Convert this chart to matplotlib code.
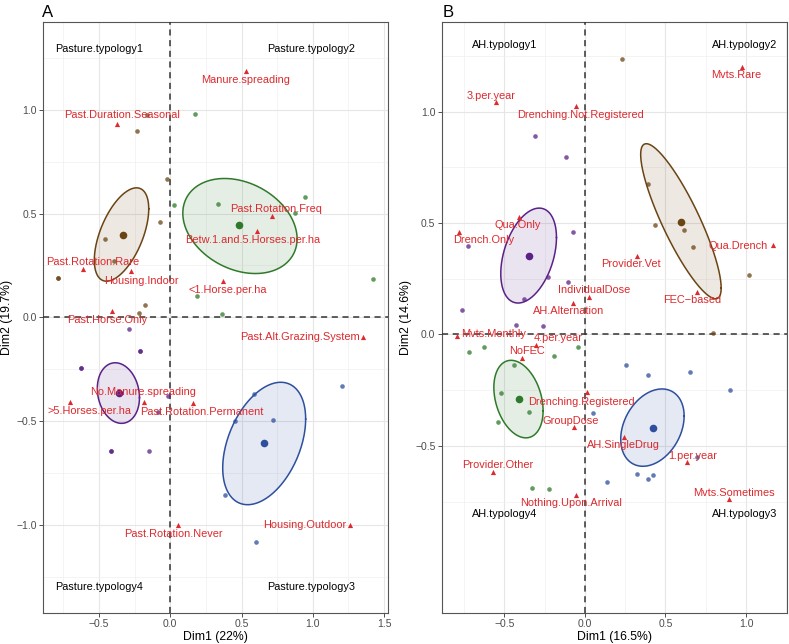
import numpy as np
import matplotlib.pyplot as plt

plt.rcParams['font.family'] = ['Liberation Sans', 'DejaVu Sans']

# ---------------- Panel A : pasture practices ----------------
a_ind_x = {
    'brown': [-0.166, -0.236, -0.025, -0.456, -0.072, -0.397, -0.786, -0.786, -0.218, -0.178],
    'green': [0.173, 0.024, 0.337, 0.947, 0.877, 1.425, 0.187, 0.363],
    'purple': [-0.292, -0.213, -0.213, -0.625, -0.625, -0.014, -0.086, -0.416, -0.416, -0.147],
    'blue': [1.203, 0.590, 0.723, 0.456, 0.386, 0.599],
}
a_ind_y = {
    'brown': [0.976, 0.898, 0.668, 0.379, 0.459, 0.271, 0.191, 0.191, 0.021, 0.058],
    'green': [0.980, 0.543, 0.545, 0.581, 0.504, 0.185, 0.103, 0.017],
    'purple': [-0.058, -0.164, -0.164, -0.246, -0.246, -0.379, -0.456, -0.646, -0.646, -0.643],
    'blue': [-0.333, -0.371, -0.495, -0.500, -0.855, -1.083],
}
# centroid x, y, ellipse centre x, y, spread x, spread y, correlation
a_ell = {
    'brown': (-0.334, 0.398, -0.342, 0.399, 0.191, 0.225, 0.55),
    'green': (0.482, 0.443, 0.489, 0.440, 0.401, 0.229, -0.27),
    'purple': (-0.360, -0.366, -0.364, -0.365, 0.148, 0.146, -0.15),
    'blue': (0.660, -0.607, 0.659, -0.608, 0.291, 0.295, 0.40),
}
a_var = ['Manure.spreading', 'Past.Duration.Seasonal', 'Past.Rotation.Freq',
         'Betw.1.and.5.Horses.per.ha', 'Past.Rotation.Rare', 'Housing.Indoor',
         '<1.Horse.per.ha', 'Past.Horse.Only', 'Past.Alt.Grazing.System',
         'No.Manure.spreading', '>5.Horses.per.ha', 'Past.Rotation.Permanent',
         'Past.Rotation.Never', 'Housing.Outdoor']
a_var_x = [0.529, -0.372, 0.712, 0.606, -0.615, -0.278, 0.372, -0.407, 1.350,
           -0.185, -0.702, 0.162, 0.056, 1.263]
a_var_y = [1.187, 0.932, 0.487, 0.414, 0.233, 0.222, 0.173, 0.030, -0.093,
           -0.407, -0.407, -0.411, -0.999, -0.999]
a_lab_x = [0.529, -0.338, 0.744, 0.576, -0.545, -0.203, 0.403, -0.442, 0.912,
           -0.190, -0.566, 0.218, 0.021, 0.945]
a_lab_y = [1.145, 0.973, 0.522, 0.371, 0.267, 0.173, 0.130, -0.013, -0.096,
           -0.358, -0.453, -0.455, -1.044, -1.002]
a_corner = ['Pasture.typology1', 'Pasture.typology2', 'Pasture.typology3', 'Pasture.typology4']

# ---------------- Panel B : anthelmintic practices ----------------
b_ind_x = {
    'brown': [0.232, 0.391, 0.435, 0.617, 0.669, 1.021, 0.797],
    'purple': [-0.309, -0.118, -0.075, -0.725, -0.228, -0.108, -0.379, -0.766, -0.429, -0.263],
    'green': [-0.722, -0.629, -0.043, -0.193, -0.443, -0.524, -0.346, -0.542, -0.327, -0.225],
    'blue': [0.255, 0.391, 0.652, 0.901, 0.052, 0.694, 0.321, 0.422, 0.391, 0.135],
}
b_ind_y = {
    'brown': [1.234, 0.676, 0.489, 0.469, 0.393, 0.265, 0.008],
    'purple': [0.892, 0.795, 0.458, 0.395, 0.260, 0.235, 0.157, 0.109, 0.044, 0.040],
    'green': [-0.077, -0.058, -0.056, -0.097, -0.135, -0.261, -0.346, -0.391, -0.687, -0.694],
    'blue': [-0.135, -0.183, -0.169, -0.247, -0.353, -0.552, -0.625, -0.630, -0.648, -0.664],
}
b_ell = {
    'brown': (0.596, 0.504, 0.596, 0.508, 0.250, 0.348, -0.86),
    'purple': (-0.350, 0.352, -0.350, 0.354, 0.173, 0.213, 0.38),
    'green': (-0.410, -0.291, -0.413, -0.290, 0.153, 0.174, -0.30),
    'blue': (0.422, -0.421, 0.419, -0.418, 0.197, 0.1735, 0.30),
}
b_var = ['3.per.year', 'Drenching.Not.Registered', 'Mvts.Rare', 'Qua.Only',
         'Drench.Only', 'Provider.Vet', 'Qua.Drench', 'IndividualDose',
         'AH.Alternation', 'FEC\u2212based', 'Mvts.Monthly', '4.per.year', 'NoFEC',
         'Drenching.Registered', 'GroupDose', 'AH.SingleDrug', '1.per.year',
         'Provider.Other', 'Nothing.Upon.Arrival', 'Mvts.Sometimes']
b_var_x = [-0.553, -0.058, 0.973, -0.412, -0.785, 0.321, 1.166, 0.027, -0.072,
           0.696, -0.795, -0.304, -0.389, 0.014, -0.066, 0.240, 0.634, -0.569,
           -0.058, 0.894]
b_var_y = [1.045, 1.023, 1.201, 0.526, 0.459, 0.350, 0.402, 0.166, 0.142,
           0.191, -0.009, -0.047, -0.104, -0.260, -0.416, -0.461, -0.573, -0.616,
           -0.721, -0.738]
b_lab_x = [-0.582, -0.027, 0.942, -0.418, -0.627, 0.288, 0.952, 0.054, -0.101,
           0.667, -0.569, -0.168, -0.358, -0.019, -0.091, 0.240, 0.669, -0.540,
           -0.087, 0.923]
b_lab_y = [1.072, 0.984, 1.166, 0.493, 0.425, 0.316, 0.396, 0.198, 0.105,
           0.155, 0.004, -0.014, -0.073, -0.303, -0.388, -0.497, -0.546, -0.586,
           -0.756, -0.712]
b_corner = ['AH.typology1', 'AH.typology2', 'AH.typology3', 'AH.typology4']

palette = {'brown': '#6b4414', 'green': '#2f7a2a', 'purple': '#5a2187', 'blue': '#2d4f9e'}
red = '#dc2a2e'


def draw_panel(ax, ind_x, ind_y, ell, var, vx, vy, lx, ly, corner, cx, cy,
               xlim, ylim, xticks, yticks, xlabel, ylabel):
    t = np.linspace(0, 2 * np.pi, 200)
    for g in ell:
        mx, my, ex, ey, sx, sy, rho = ell[g]
        px = ex + sx * np.cos(t)
        py = ey + sy * (rho * np.cos(t) + np.sqrt(1 - rho ** 2) * np.sin(t))
        ax.fill(px, py, color=palette[g], alpha=0.12, lw=0, zorder=2)
        ax.plot(px, py, color=palette[g], lw=1.1, zorder=2)
    ax.axhline(0, color='#333333', ls=(0, (4, 3)), lw=1.1, zorder=3)
    ax.axvline(0, color='#333333', ls=(0, (4, 3)), lw=1.1, zorder=3)
    for g in ind_x:
        ax.scatter(ind_x[g], ind_y[g], s=11, color=palette[g], alpha=0.75,
                   lw=0, zorder=4)
        ax.scatter([ell[g][0]], [ell[g][1]], s=30, color=palette[g], lw=0, zorder=5)
    ax.scatter(vx, vy, marker='^', s=14, color=red, lw=0, zorder=6)
    for name, x, y in zip(var, lx, ly):
        ax.text(x, y, name, color=red, fontsize=7.9, ha='center', va='center', zorder=7)
    # typology names in the four corners
    ax.text(cx[0], cy[1], corner[0], fontsize=7.8, ha='center', va='center')
    ax.text(cx[1], cy[1], corner[1], fontsize=7.8, ha='center', va='center')
    ax.text(cx[1], cy[0], corner[2], fontsize=7.8, ha='center', va='center')
    ax.text(cx[0], cy[0], corner[3], fontsize=7.8, ha='center', va='center')

    ax.set_xlim(xlim)
    ax.set_ylim(ylim)
    ax.set_xticks(xticks)
    ax.set_yticks(yticks)
    ax.set_xticks(np.arange(-0.75, xlim[1], 0.5), minor=True)
    ax.set_yticks(np.arange(-1.25, ylim[1], 0.5), minor=True)
    ax.tick_params(which='major', length=3, width=0.6, color='#333333',
                   labelsize=7.5, labelcolor='#4d4d4d', pad=1.5)
    ax.tick_params(which='minor', length=0)
    ax.grid(which='major', color='#e6e6e6', lw=0.8, zorder=0)
    ax.grid(which='minor', color='#f0f0f0', lw=0.5, zorder=0)
    ax.set_axisbelow(True)
    for sp in ax.spines.values():
        sp.set_color('#555555')
        sp.set_linewidth(0.8)
    ax.set_xlabel(xlabel, fontsize=8.8, labelpad=1.5)
    ax.set_ylabel(ylabel, fontsize=8.8, labelpad=2)


fig = plt.figure(figsize=(7.89, 6.44), dpi=100)
axA = fig.add_axes([0.0545, 0.0481, 0.4373, 0.9177])
axB = fig.add_axes([0.5598, 0.0481, 0.4377, 0.9177])

draw_panel(axA, a_ind_x, a_ind_y, a_ell, a_var, a_var_x, a_var_y, a_lab_x, a_lab_y,
           a_corner, (-0.5, 0.99), (-1.30, 1.293), (-0.893, 1.528), (-1.425, 1.423),
           [-0.5, 0, 0.5, 1.0, 1.5], [-1.0, -0.5, 0, 0.5, 1.0],
           'Dim1 (22%)', 'Dim2 (19.7%)')
draw_panel(axB, b_ind_x, b_ind_y, b_ell, b_var, b_var_x, b_var_y, b_lab_x, b_lab_y,
           b_corner, (-0.499, 0.992), (-0.804, 1.297), (-0.89, 1.255), (-0.902, 1.402),
           [-0.5, 0, 0.5, 1.0], [-0.5, 0, 0.5, 1.0],
           'Dim1 (16.5%)', 'Dim2 (14.6%)')

fig.text(0.053, 0.993, 'A', fontsize=12, va='top', ha='left')
fig.text(0.5605, 0.993, 'B', fontsize=12, va='top', ha='left')

fig.savefig('out.png', dpi=100)
